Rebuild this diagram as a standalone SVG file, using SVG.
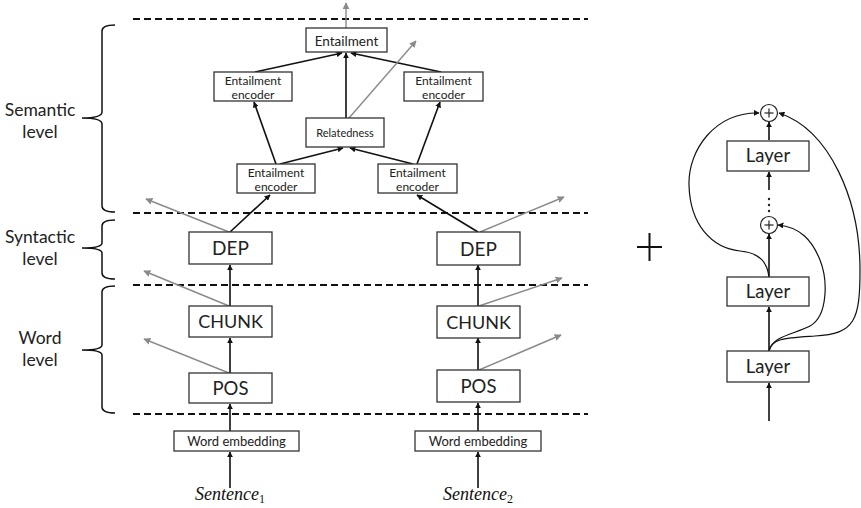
<svg xmlns="http://www.w3.org/2000/svg" width="861" height="508" viewBox="0 0 861 508">
  <style>
    .box { fill: #fff; stroke: #333; stroke-width: 1.3; }
    .t { font-family: Lato, "Open Sans", "Liberation Sans", sans-serif; fill: #222; text-anchor: middle; }
    .lvl { font-family: Lato, "Open Sans", "Liberation Sans", sans-serif; fill: #222; font-size: 17.5px; text-anchor: middle; }
    .dash { stroke: #111; stroke-width: 2; stroke-dasharray: 7 4; fill: none; }
    .brace { stroke: #111; stroke-width: 1.5; fill: none; }
    .blk { stroke: #111; stroke-width: 1.6; fill: none; marker-end: url(#ah); }
    .gry { stroke: #8a8a8a; stroke-width: 1.4; fill: none; marker-end: url(#ahg); }
    .crv { stroke: #111; stroke-width: 1.2; fill: none; marker-end: url(#ah); }
    .sent { font-family: "Liberation Serif", "DejaVu Serif", serif; font-style: italic; font-size: 18px; fill: #111; text-anchor: middle; }
  </style>
  <defs>
    <marker id="ah" viewBox="0 0 10 10" refX="9" refY="5" markerWidth="6" markerHeight="6" markerUnits="userSpaceOnUse" orient="auto">
      <path d="M0,0 L10,5 L0,10 z" fill="#111"/>
    </marker>
    <marker id="ahg" viewBox="0 0 10 10" refX="9" refY="5" markerWidth="7" markerHeight="7" markerUnits="userSpaceOnUse" orient="auto">
      <path d="M0,0 L10,5 L0,10 z" fill="#8a8a8a"/>
    </marker>
  </defs>

  <rect width="861" height="508" fill="#fff"/>

  <!-- level separators -->
  <g id="separators">
    <line class="dash" x1="133" y1="19" x2="588" y2="19"/>
    <line class="dash" x1="133" y1="213" x2="588" y2="213"/>
    <line class="dash" x1="133" y1="285" x2="588" y2="285"/>
    <line class="dash" x1="133" y1="414" x2="588" y2="414"/>
  </g>

  <!-- level braces and labels -->
  <g id="level-semantic">
    <path class="brace" d="M115,25 Q102,25 102,31 L102,112 Q102,118 82,118 Q102,118 102,124 L102,206 Q102,212 115,212"/>
    <text class="lvl" x="40" y="116">Semantic</text>
    <text class="lvl" x="40" y="138">level</text>
  </g>
  <g id="level-syntactic">
    <path class="brace" d="M115,220 Q102,220 102,226 L102,243 Q102,248 82,248 Q102,248 102,253 L102,273 Q102,279 115,279"/>
    <text class="lvl" x="40" y="243">Syntactic</text>
    <text class="lvl" x="40" y="265">level</text>
  </g>
  <g id="level-word">
    <path class="brace" d="M115,286 Q102,286 102,292 L102,345 Q102,350 82,350 Q102,350 102,355 L102,407 Q102,413 115,413"/>
    <text class="lvl" x="40" y="344">Word</text>
    <text class="lvl" x="40" y="366">level</text>
  </g>

  <!-- connectors -->
  <g id="connectors">
    <!-- sentence 1 column -->
    <line class="blk" x1="230" y1="488" x2="230" y2="452"/>
    <line class="blk" x1="230" y1="431" x2="230" y2="404"/>
    <line class="blk" x1="230" y1="373" x2="230" y2="338"/>
    <line class="blk" x1="230" y1="306" x2="230" y2="265"/>
    <line class="gry" x1="229" y1="373" x2="144" y2="339"/>
    <line class="gry" x1="229" y1="306" x2="144" y2="271"/>
    <line class="gry" x1="229" y1="232" x2="146" y2="199"/>
    <line class="blk" x1="230" y1="232" x2="270" y2="195"/>
    <!-- sentence 2 column -->
    <line class="blk" x1="478" y1="488" x2="478" y2="452"/>
    <line class="blk" x1="478" y1="431" x2="478" y2="403"/>
    <line class="blk" x1="478" y1="370" x2="478" y2="338"/>
    <line class="blk" x1="478" y1="306" x2="478" y2="265"/>
    <line class="gry" x1="479" y1="370" x2="561" y2="335"/>
    <line class="gry" x1="479" y1="306" x2="562" y2="278"/>
    <line class="gry" x1="480" y1="232" x2="564" y2="197"/>
    <line class="blk" x1="478" y1="232" x2="417" y2="195"/>
    <!-- semantic tasks -->
    <line class="blk" x1="276" y1="164" x2="254" y2="102"/>
    <line class="blk" x1="280" y1="164" x2="343" y2="148"/>
    <line class="blk" x1="413" y1="164" x2="350" y2="148"/>
    <line class="blk" x1="417" y1="164" x2="440" y2="102"/>
    <line class="blk" x1="255" y1="72" x2="342" y2="53"/>
    <line class="blk" x1="346" y1="118" x2="346" y2="53"/>
    <line class="blk" x1="441" y1="72" x2="351" y2="53"/>
    <line class="gry" x1="349" y1="118" x2="416" y2="41"/>
    <line class="gry" x1="346" y1="28" x2="346" y2="3"/>
    <!-- shortcut block -->
    <line class="blk" x1="769" y1="421" x2="769" y2="383"/>
    <line class="blk" x1="769" y1="351" x2="769" y2="307"/>
    <line class="blk" x1="769" y1="277" x2="769" y2="234"/>
    <line class="blk" x1="769" y1="190" x2="769" y2="172"/>
    <line class="blk" x1="769" y1="140" x2="769" y2="122"/>
    <path class="crv" d="M769,277 C767,262 760,253 740,251 C712,248 690,225 689,185 C688,150 715,112 759,113"/>
    <path class="crv" d="M769,351 C772,336 795,334 810,326 C828,316 828,280 820,260 C812,240 800,227 778,225"/>
    <path class="crv" d="M769,351 C772,338 785,338 815,336 C855,334 860,320 860,270 C860,200 830,130 779,113"/>
  </g>

  <!-- nodes: sentence 1 -->
  <g id="sentence1"><text class="sent" x="230" y="500">Sentence<tspan font-size="12" dy="3" font-style="normal">1</tspan></text></g>
  <g id="embed1"><rect class="box" x="174" y="431" width="125" height="20"/><text class="t" x="236.5" y="446" font-size="13">Word embedding</text></g>
  <g id="pos1"><rect class="box" x="189" y="373" width="83" height="30"/><text class="t" x="230.5" y="395" font-size="18.5">POS</text></g>
  <g id="chunk1"><rect class="box" x="189" y="306" width="83" height="31"/><text class="t" x="230.5" y="328" font-size="18">CHUNK</text></g>
  <g id="dep1"><rect class="box" x="189" y="232" width="83" height="32"/><text class="t" x="230.5" y="255" font-size="19">DEP</text></g>

  <!-- nodes: sentence 2 -->
  <g id="sentence2"><text class="sent" x="478" y="500">Sentence<tspan font-size="12" dy="3" font-style="normal">2</tspan></text></g>
  <g id="embed2"><rect class="box" x="415" y="431" width="126" height="20"/><text class="t" x="478" y="446" font-size="13">Word embedding</text></g>
  <g id="pos2"><rect class="box" x="437" y="370" width="83" height="32"/><text class="t" x="478.5" y="393" font-size="18.5">POS</text></g>
  <g id="chunk2"><rect class="box" x="437" y="306" width="83" height="32"/><text class="t" x="478.5" y="329" font-size="18">CHUNK</text></g>
  <g id="dep2"><rect class="box" x="437" y="232" width="83" height="33"/><text class="t" x="478.5" y="256" font-size="19">DEP</text></g>

  <!-- nodes: semantic tasks -->
  <g id="enc-bl"><rect class="box" x="237" y="164" width="78" height="29"/><text class="t" x="276" y="176.5" font-size="12">Entailment</text><text class="t" x="276" y="190.5" font-size="12">encoder</text></g>
  <g id="enc-br"><rect class="box" x="378" y="164" width="79" height="29"/><text class="t" x="417.5" y="176.5" font-size="12">Entailment</text><text class="t" x="417.5" y="190.5" font-size="12">encoder</text></g>
  <g id="relatedness"><rect class="box" x="306" y="118" width="78" height="29"/><text class="t" x="345" y="137" font-size="11">Relatedness</text></g>
  <g id="enc-tl"><rect class="box" x="214" y="72" width="78" height="29"/><text class="t" x="253" y="84.5" font-size="12">Entailment</text><text class="t" x="253" y="98.5" font-size="12">encoder</text></g>
  <g id="enc-tr"><rect class="box" x="404" y="72" width="79" height="29"/><text class="t" x="443.5" y="84.5" font-size="12">Entailment</text><text class="t" x="443.5" y="98.5" font-size="12">encoder</text></g>
  <g id="entailment"><rect class="box" x="306" y="28" width="81" height="24"/><text class="t" x="346.5" y="45.5" font-size="13.5">Entailment</text></g>

  <!-- plus sign -->
  <g id="plus">
    <line x1="637" y1="247" x2="662" y2="247" stroke="#111" stroke-width="2"/>
    <line x1="649.5" y1="233" x2="649.5" y2="261" stroke="#111" stroke-width="2"/>
  </g>

  <!-- shortcut block nodes -->
  <g id="layer3"><rect class="box" x="727" y="351" width="82" height="31"/><text class="t" x="768" y="373" font-size="18.5">Layer</text></g>
  <g id="layer2"><rect class="box" x="727" y="277" width="82" height="29"/><text class="t" x="768" y="298" font-size="18.5">Layer</text></g>
  <g id="layer1"><rect class="box" x="727" y="141" width="82" height="30"/><text class="t" x="768" y="162" font-size="18.5">Layer</text></g>
  <g id="sum2">
    <circle cx="769" cy="225" r="8.5" fill="#fff" stroke="#222" stroke-width="1.2"/>
    <line x1="764.5" y1="225" x2="773.5" y2="225" stroke="#222" stroke-width="1.2"/>
    <line x1="769" y1="220.5" x2="769" y2="229.5" stroke="#222" stroke-width="1.2"/>
  </g>
  <g id="sum1">
    <circle cx="769" cy="113" r="8.5" fill="#fff" stroke="#222" stroke-width="1.2"/>
    <line x1="764.5" y1="113" x2="773.5" y2="113" stroke="#222" stroke-width="1.2"/>
    <line x1="769" y1="108.5" x2="769" y2="117.5" stroke="#222" stroke-width="1.2"/>
  </g>
  <g id="ellipsis" fill="#222">
    <circle cx="769" cy="199" r="1.2"/>
    <circle cx="769" cy="205" r="1.2"/>
    <circle cx="769" cy="211" r="1.2"/>
  </g>
</svg>
